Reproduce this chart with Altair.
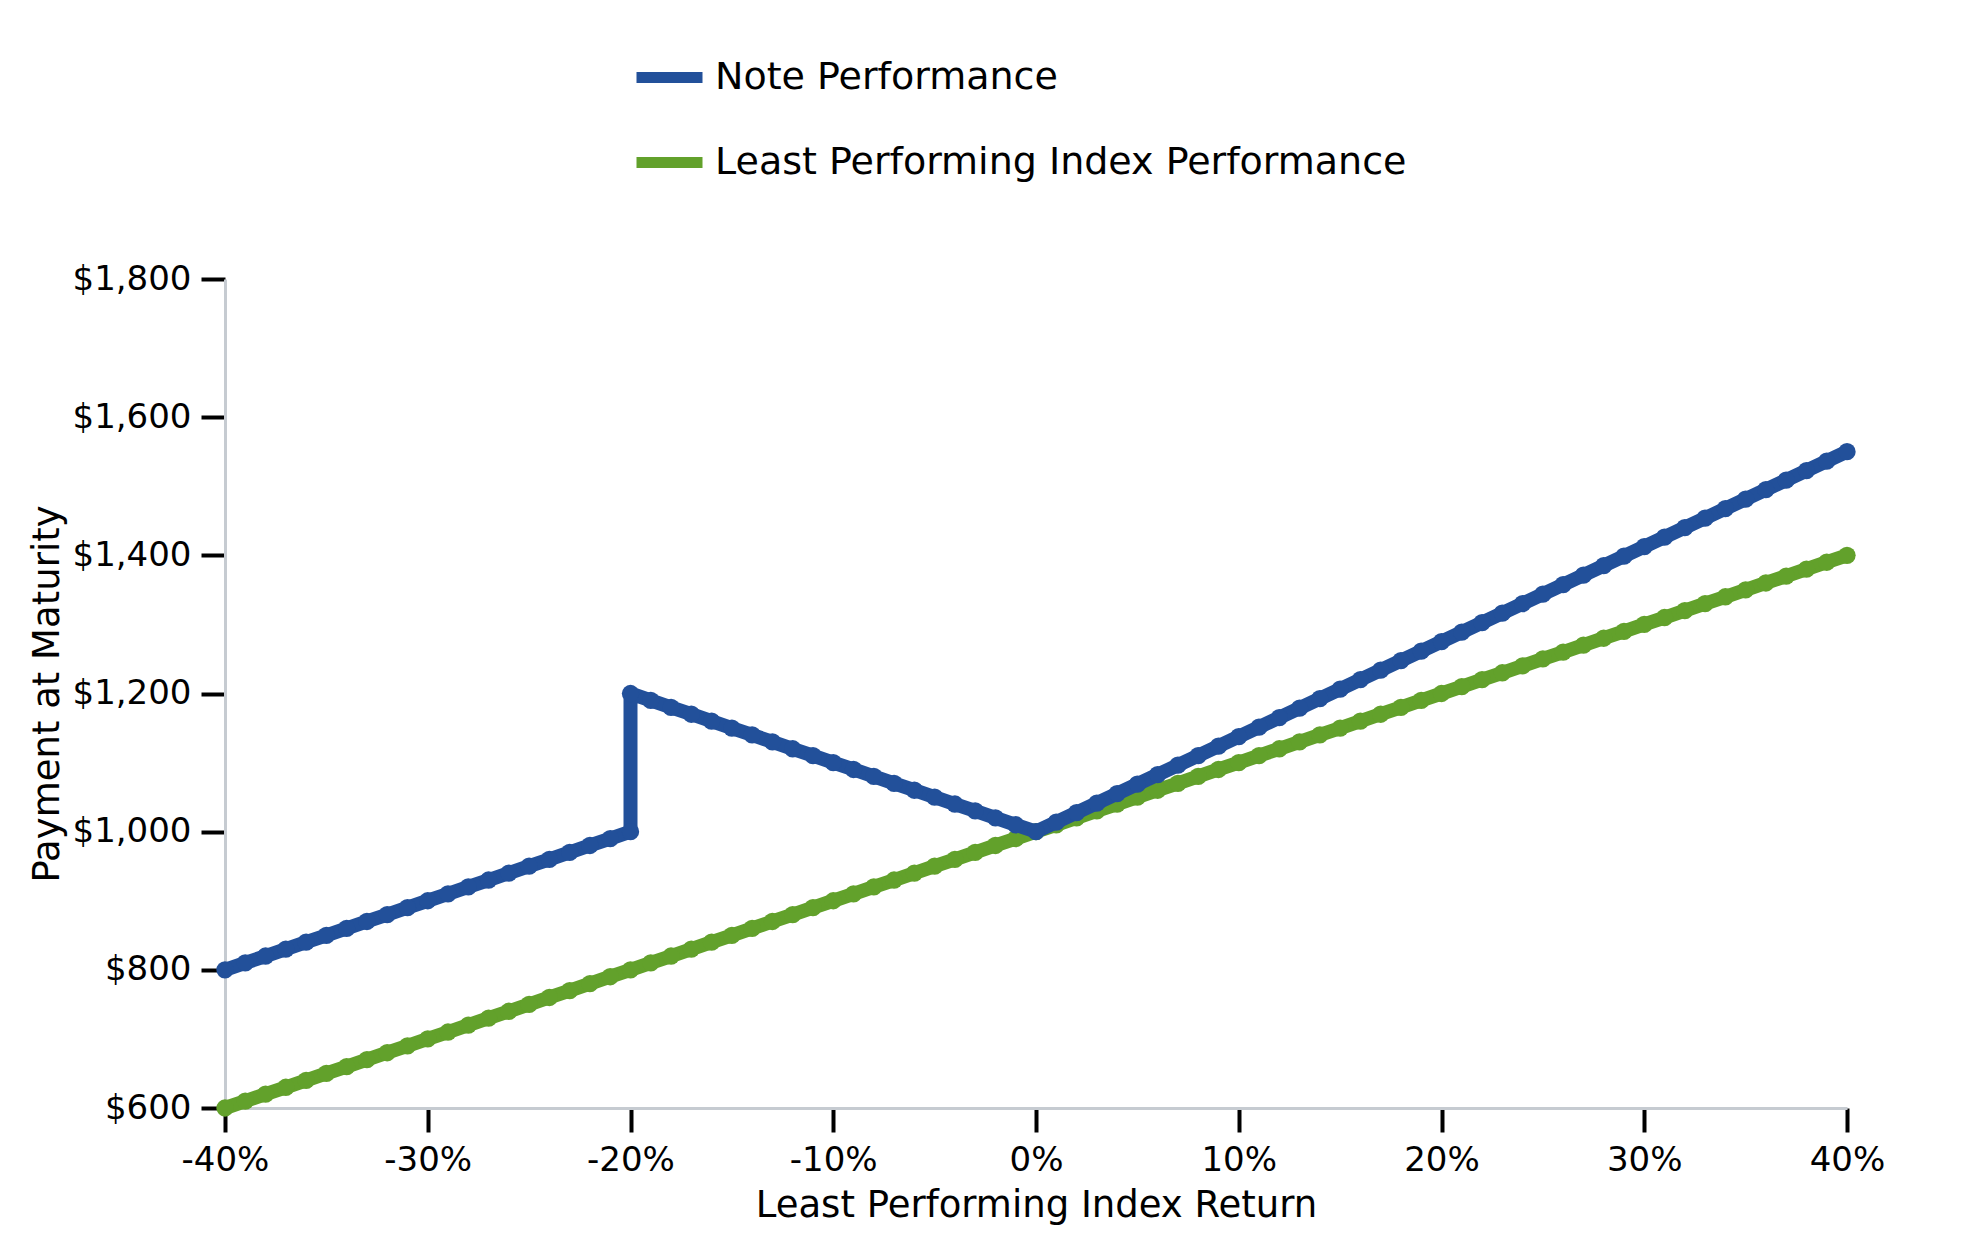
import altair as alt
import pandas as pd

# Least performing index return (%) and payment at maturity ($)
note_x = [-40, -39, -38, -37, -36, -35, -34, -33, -32, -31, -30, -29, -28, -27, -26, -25, -24, -23, -22, -21, -20,
          -20, -19, -18, -17, -16, -15, -14, -13, -12, -11, -10, -9, -8, -7, -6, -5, -4, -3, -2, -1, 0,
          1, 2, 3, 4, 5, 6, 7, 8, 9, 10, 11, 12, 13, 14, 15, 16, 17, 18, 19, 20,
          21, 22, 23, 24, 25, 26, 27, 28, 29, 30, 31, 32, 33, 34, 35, 36, 37, 38, 39, 40]
note_y = [800, 810, 820, 830, 840, 850, 860, 870, 880, 890, 900, 910, 920, 930, 940, 950, 960, 970, 980, 990, 1000,
          1200, 1190, 1180, 1170, 1160, 1150, 1140, 1130, 1120, 1110, 1100, 1090, 1080, 1070, 1060, 1050, 1040, 1030, 1020, 1010, 1000,
          1013.75, 1027.5, 1041.25, 1055, 1068.75, 1082.5, 1096.25, 1110, 1123.75, 1137.5,
          1151.25, 1165, 1178.75, 1192.5, 1206.25, 1220, 1233.75, 1247.5, 1261.25, 1275,
          1288.75, 1302.5, 1316.25, 1330, 1343.75, 1357.5, 1371.25, 1385, 1398.75, 1412.5,
          1426.25, 1440, 1453.75, 1467.5, 1481.25, 1495, 1508.75, 1522.5, 1536.25, 1550]

index_x = [-40, -39, -38, -37, -36, -35, -34, -33, -32, -31, -30, -29, -28, -27, -26, -25, -24, -23, -22, -21, -20,
           -19, -18, -17, -16, -15, -14, -13, -12, -11, -10, -9, -8, -7, -6, -5, -4, -3, -2, -1, 0,
           1, 2, 3, 4, 5, 6, 7, 8, 9, 10, 11, 12, 13, 14, 15, 16, 17, 18, 19, 20,
           21, 22, 23, 24, 25, 26, 27, 28, 29, 30, 31, 32, 33, 34, 35, 36, 37, 38, 39, 40]
index_y = [600, 610, 620, 630, 640, 650, 660, 670, 680, 690, 700, 710, 720, 730, 740, 750, 760, 770, 780, 790, 800,
           810, 820, 830, 840, 850, 860, 870, 880, 890, 900, 910, 920, 930, 940, 950, 960, 970, 980, 990, 1000,
           1010, 1020, 1030, 1040, 1050, 1060, 1070, 1080, 1090, 1100, 1110, 1120, 1130, 1140, 1150, 1160, 1170, 1180, 1190, 1200,
           1210, 1220, 1230, 1240, 1250, 1260, 1270, 1280, 1290, 1300, 1310, 1320, 1330, 1340, 1350, 1360, 1370, 1380, 1390, 1400]

series_names = ["Note Performance", "Least Performing Index Performance"]
series_colors = ["#22509a", "#62a12b"]
x_ticks = [-40, -30, -20, -10, 0, 10, 20, 30, 40]
y_ticks = [600, 800, 1000, 1200, 1400, 1600, 1800]

note_df = pd.DataFrame({"x": note_x, "y": note_y, "series": series_names[0],
                        "idx": list(range(len(note_x)))})
index_df = pd.DataFrame({"x": index_x, "y": index_y, "series": series_names[1],
                         "idx": list(range(len(index_x)))})

FONT = "DejaVu Sans"

color = alt.Color(
    "series:N",
    scale=alt.Scale(domain=series_names, range=series_colors),
    legend=alt.Legend(
        title=None, orient="none", legendX=406, legendY=-240, direction="vertical",
        symbolType="stroke", symbolSize=4356, symbolStrokeWidth=11,
        labelFontSize=38, labelFont=FONT, labelColor="#000000", labelOffset=7,
        rowPadding=24, padding=0, labelLimit=800,
    ),
)

x_enc = alt.X(
    "x:Q",
    scale=alt.Scale(domain=[-40, 40], nice=False, zero=False),
    axis=alt.Axis(values=x_ticks, labelExpr="datum.value + '%'", labelFlush=False,
                  title="Least Performing Index Return"),
)
y_enc = alt.Y(
    "y:Q",
    scale=alt.Scale(domain=[600, 1800], nice=False, zero=False),
    axis=alt.Axis(values=y_ticks, format="$,.0f", labelFlush=False,
                  title="Payment at Maturity"),
)


def series_layer(df):
    return alt.Chart(df).mark_line(
        strokeWidth=14, strokeCap="round", strokeJoin="round",
        point=alt.OverlayMarkDef(filled=True, size=300, opacity=1),
    ).encode(x=x_enc, y=y_enc, color=color, order=alt.Order("idx:Q"))


chart = alt.layer(series_layer(index_df), series_layer(note_df)).properties(
    width=1622, height=829,
    autosize=alt.AutoSizeParams(type="none"),
    padding={"left": 217, "top": 271, "right": 120, "bottom": 130},
).configure_view(stroke=None).configure_axis(
    grid=False,
    domainColor="#c6cbd1", domainWidth=3,
    tickColor="#000000", tickWidth=4, tickSize=24,
    labelFont=FONT, labelFontSize=34, labelColor="#000000",
    titleFont=FONT, titleFontSize=37, titleFontWeight="normal", titleColor="#000000",
).configure_axisX(
    labelPadding=11, titlePadding=10,
).configure_axisY(
    labelPadding=10, titlePadding=6,
)

chart.save("out.html", embed_options={"renderer": "svg", "actions": False})
